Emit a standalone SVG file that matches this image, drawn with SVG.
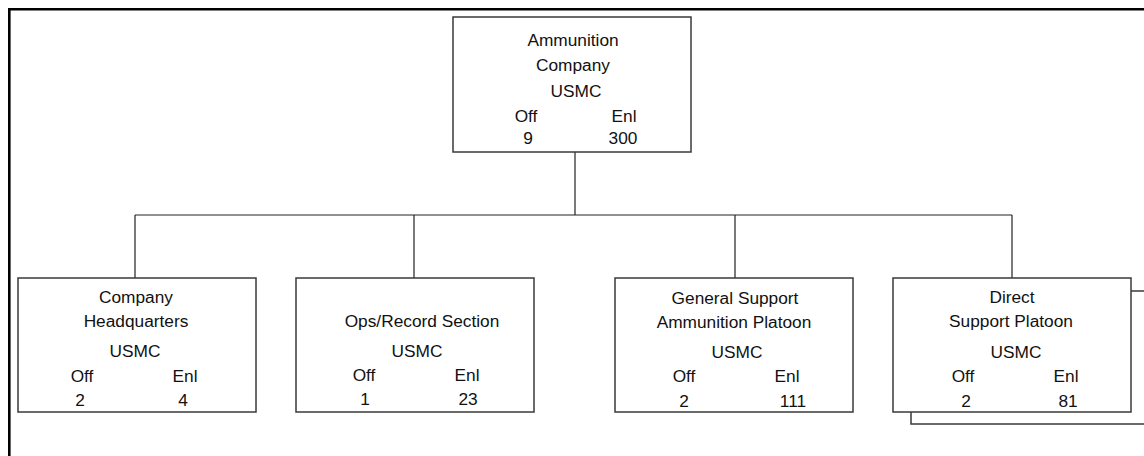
<svg xmlns="http://www.w3.org/2000/svg" width="1144" height="456" viewBox="0 0 1144 456">
<style>
text{font-family:"Liberation Sans",Arial,sans-serif;font-size:17.3px;fill:#111;text-anchor:middle}
.box{fill:#fff;stroke:#3a3a3a;stroke-width:1.5}
.con{fill:none;stroke:#222;stroke-width:1.2}
.frame{fill:none;stroke:#000;stroke-width:2.6}
</style>
<rect width="1144" height="456" fill="#fff"/>
<path class="frame" d="M9.3,470 V9.3 H1160"/>
<g id="connectors">
<path class="con" d="M575,152 V215"/>
<path class="con" d="M135,215 H1012" stroke="#444" stroke-width="1.5"/>
<path class="con" d="M135,215 V278 M414,215 V278 M735,215 V278 M1012,215 V278"/>
</g>
<g id="n0">
<rect class="box" x="453" y="17" width="238" height="135"/>
<text x="573" y="46">Ammunition</text>
<text x="573" y="71">Company</text>
<text x="576" y="97">USMC</text>
<text x="526" y="122">Off</text>
<text x="624" y="122">Enl</text>
<text x="528" y="144">9</text>
<text x="623" y="144">300</text>
</g>
<g id="n1">
<rect class="box" x="18" y="278" width="238" height="134"/>
<text x="136" y="303">Company</text>
<text x="136" y="327">Headquarters</text>
<text x="135" y="357">USMC</text>
<text x="82" y="382">Off</text>
<text x="185" y="382">Enl</text>
<text x="80" y="406">2</text>
<text x="183" y="406">4</text>
</g>
<g id="n2">
<rect class="box" x="296" y="278" width="238" height="134"/>
<text x="422" y="327">Ops/Record Section</text>
<text x="417" y="357">USMC</text>
<text x="364" y="381">Off</text>
<text x="467" y="381">Enl</text>
<text x="365" y="405">1</text>
<text x="468" y="405">23</text>
</g>
<g id="n3">
<rect class="box" x="615" y="278" width="238" height="134"/>
<text x="735" y="304">General Support</text>
<text x="734" y="328">Ammunition Platoon</text>
<text x="737" y="358">USMC</text>
<text x="684" y="382">Off</text>
<text x="787" y="382">Enl</text>
<text x="684" y="407">2</text>
<text x="793" y="407">111</text>
</g>
<g id="n4">
<rect class="box" x="911" y="291" width="238" height="133"/>
<rect class="box" x="893" y="278" width="238" height="134"/>
<text x="1012" y="303">Direct</text>
<text x="1011" y="327">Support Platoon</text>
<text x="1016" y="358">USMC</text>
<text x="963" y="382">Off</text>
<text x="1066" y="382">Enl</text>
<text x="966" y="407">2</text>
<text x="1068" y="407">81</text>
</g>
</svg>
